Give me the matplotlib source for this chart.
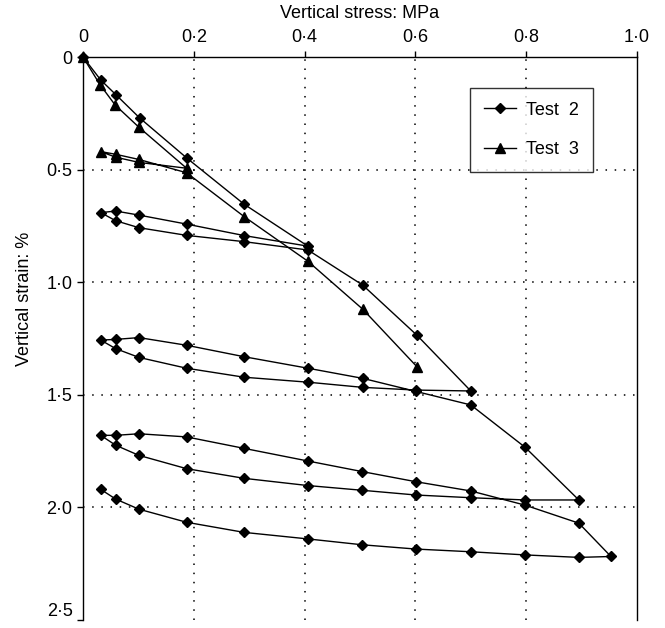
import numpy as np
import matplotlib
matplotlib.use("Agg")
import matplotlib.pyplot as plt

plt.rcParams['font.family'] = ['Liberation Sans', 'DejaVu Sans']

# Test 2: loading / unloading path (stress MPa, strain %)
test2_stress = [0, 0.032, 0.06, 0.102, 0.188, 0.291, 0.406,
                0.291, 0.187, 0.101, 0.059, 0.032,
                0.059, 0.101, 0.187, 0.291, 0.406, 0.505, 0.603, 0.70,
                0.601, 0.505, 0.406, 0.291, 0.187, 0.101, 0.059, 0.032,
                0.059, 0.101, 0.187, 0.291, 0.406, 0.505, 0.601, 0.70, 0.798, 0.895,
                0.798, 0.70, 0.601, 0.504, 0.406, 0.291, 0.187, 0.101, 0.059, 0.032,
                0.059, 0.101, 0.187, 0.291, 0.406, 0.504, 0.601, 0.70, 0.798, 0.895, 0.953,
                0.895, 0.798, 0.70, 0.601, 0.504, 0.406, 0.291, 0.187, 0.101, 0.059, 0.032]
test2_strain = [0, 0.102, 0.169, 0.27, 0.45, 0.654, 0.84,
                0.793, 0.742, 0.702, 0.684, 0.691,
                0.727, 0.758, 0.792, 0.82, 0.857, 1.013, 1.236, 1.483,
                1.479, 1.467, 1.444, 1.422, 1.382, 1.334, 1.295, 1.257,
                1.254, 1.246, 1.28, 1.331, 1.382, 1.427, 1.485, 1.545, 1.733, 1.967,
                1.967, 1.957, 1.945, 1.924, 1.903, 1.871, 1.828, 1.769, 1.724, 1.68,
                1.68, 1.673, 1.687, 1.738, 1.794, 1.841, 1.886, 1.927, 1.99, 2.07, 2.218,
                2.222, 2.211, 2.197, 2.185, 2.166, 2.14, 2.111, 2.066, 2.008, 1.963, 1.92]

# Test 3
test3_stress = [0, 0.031, 0.058, 0.101, 0.187,
                0.101, 0.059, 0.032,
                0.059, 0.101, 0.187, 0.291, 0.406, 0.505, 0.603]
test3_strain = [0, 0.124, 0.213, 0.312, 0.494,
                0.468, 0.445, 0.42,
                0.432, 0.455, 0.514, 0.709, 0.907, 1.12, 1.376]

x_ticks = [0, 0.2, 0.4, 0.6, 0.8, 1.0]
x_tick_labels = ['0', '0·2', '0·4', '0·6', '0·8', '1·0']
y_ticks = [0, 0.5, 1.0, 1.5, 2.0, 2.5]
y_tick_labels = ['0', '0·5', '1·0', '1·5', '2·0', '2·5']

fig = plt.figure(figsize=(6.65, 6.28), dpi=100)
ax = fig.add_axes([83 / 665, 1 - 620 / 628, 554 / 665, 563 / 628])

ax.plot(test2_stress, test2_strain, color='black', lw=1.0, marker='D',
        markersize=5.5, label='Test  2', clip_on=False, zorder=3)
ax.plot(test3_stress, test3_strain, color='black', lw=1.0, marker='^',
        markersize=7.5, label='Test  3', clip_on=False, zorder=3)

ax.set_xlim(0, 1.0)
ax.set_ylim(2.5, 0)
ax.xaxis.tick_top()
ax.xaxis.set_label_position('top')
ax.set_xticks(x_ticks)
ax.set_xticklabels(x_tick_labels, fontsize=13)
ax.set_yticks(y_ticks)
ax.set_yticklabels(y_tick_labels, fontsize=13)
ax.tick_params(axis='both', direction='out', length=4, width=1, colors='black')
ax.tick_params(axis='x', pad=4)
# keep the bottom label inside the canvas
ax.get_yticklabels()[-1].set_verticalalignment('bottom')
ax.get_yticklabels()[-1].set_y(2.5)

ax.set_xlabel('Vertical stress: MPa', fontsize=13, labelpad=8)
ax.set_ylabel('Vertical strain: %', fontsize=13)
ax.yaxis.set_label_coords(-0.09, 0.57)

# dotted grid on interior ticks only
for xv in x_ticks[1:-1]:
    ax.axvline(xv, color='black', lw=1.1, ls=(0, (1, 5)), zorder=1)
for yv in y_ticks[1:-1]:
    ax.axhline(yv, color='black', lw=1.1, ls=(0, (1, 5)), zorder=1)

ax.spines['bottom'].set_visible(False)
for s in ['top', 'left', 'right']:
    ax.spines[s].set_linewidth(1.0)

leg = ax.legend(loc='upper right', bbox_to_anchor=(0.92, 0.945), fontsize=13,
                frameon=True, fancybox=False, edgecolor='black',
                handlelength=1.8, labelspacing=1.25, borderpad=0.75,
                handletextpad=0.55, borderaxespad=0)
leg.get_frame().set_linewidth(1.0)

fig.savefig('out.png', dpi=100)
